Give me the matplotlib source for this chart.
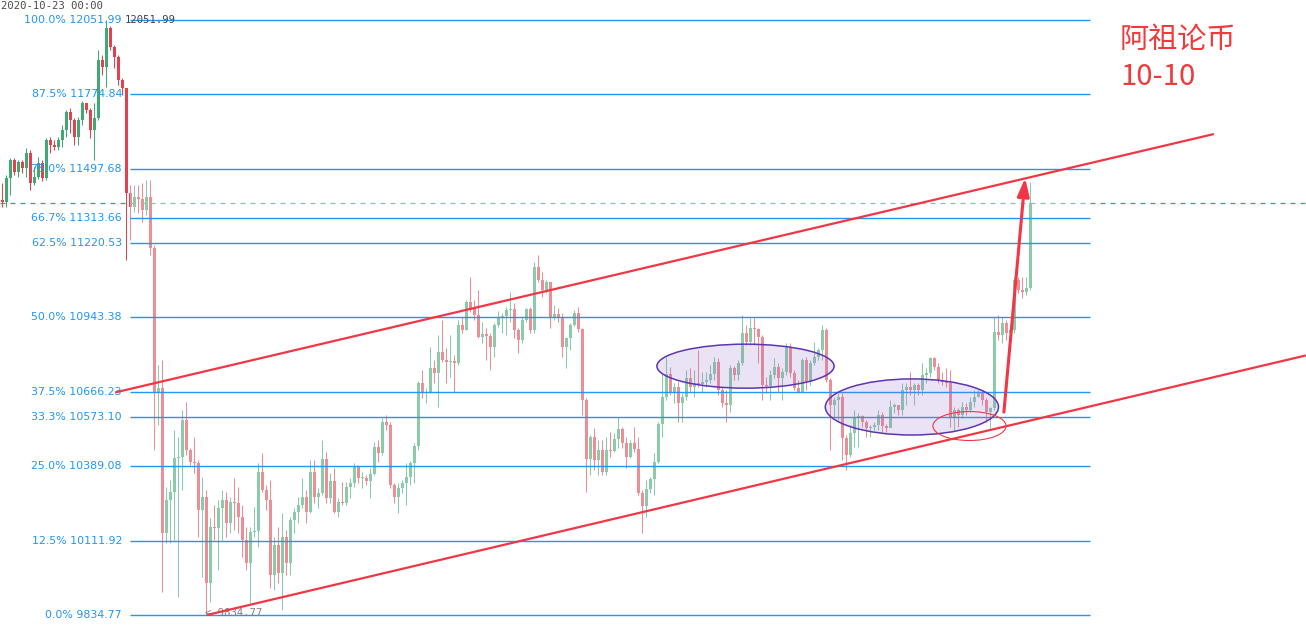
import matplotlib
matplotlib.use("Agg")
import matplotlib.pyplot as plt
from matplotlib.patches import Ellipse, Rectangle
import numpy as np

# === 数据：K线（开盘价 = 前一根收盘价）
first_open = 11381
closes = [
    11374, 11463, 11530, 11486, 11523, 11500, 11556, 11445, 11467, 11519,
    11463, 11605, 11586, 11579, 11605, 11642, 11709, 11679, 11616, 11679,
    11743, 11717, 11642, 11687, 11903, 11877, 12022, 11951, 11914, 11828,
    11799, 11407, 11355, 11392, 11385, 11344, 11392, 11202, 10666, 10681,
    10140, 10263, 10293, 10420, 10424, 10561, 10450, 10405, 10401, 10226,
    10274, 9954, 10163, 10159, 10233, 10263, 10178, 10256, 10252, 10200,
    10114, 10029, 10144, 10148, 10368, 10301, 10263, 9984, 10096, 9991,
    10125, 10029, 10189, 10219, 10245, 10274, 10219, 10368, 10274, 10289,
    10416, 10271, 10334, 10219, 10256, 10252, 10312, 10327, 10386, 10345,
    10347, 10334, 10360, 10461, 10438, 10554, 10543, 10319, 10274, 10308,
    10327, 10349, 10401, 10465, 10699, 10662, 10666, 10755, 10737, 10815,
    10785, 10778, 10781, 10774, 10915, 10897, 11001, 10979, 10953, 10871,
    10882, 10874, 10833, 10915, 10942, 10949, 10971, 10975, 10897, 10860,
    10934, 10975, 10897, 11132, 11083, 11046, 11076, 10945, 10956, 10942,
    10833, 10867, 10915, 10960, 10900, 10636, 10416, 10498, 10412, 10450,
    10368, 10450, 10446, 10491, 10528, 10476, 10424, 10476, 10453, 10289,
    10241, 10304, 10342, 10405, 10547, 10647, 10733, 10666, 10684, 10625,
    10647, 10718, 10684, 10699, 10696, 10703, 10710, 10733, 10778, 10673,
    10625, 10617, 10755, 10729, 10774, 10886, 10852, 10904, 10900, 10871,
    10692, 10688, 10729, 10759, 10718, 10740, 10833, 10737, 10681, 10666,
    10785, 10703, 10774, 10796, 10822, 10897, 10710, 10617, 10636, 10647,
    10494, 10431, 10513, 10573, 10576, 10554, 10532, 10535, 10543, 10580,
    10539, 10532, 10610, 10617, 10599, 10673, 10684, 10673, 10692, 10673,
    10729, 10737, 10792, 10759, 10710, 10703, 10699, 10573, 10599, 10580,
    10610, 10599, 10628, 10647, 10662, 10636, 10591, 10606, 10889, 10878,
    10923, 10886, 10897, 11083, 11046, 11038, 11053, 11370,
]
highs = [
    11445, 11474, 11538, 11538, 11530, 11530, 11575, 11568, 11504, 11541,
    11530, 11612, 11616, 11605, 11616, 11661, 11717, 11724, 11687, 11690,
    11750, 11743, 11724, 11743, 11940, 11922, 12052, 12030, 11959, 11922,
    11836, 11754, 11437, 11437, 11437, 11445, 11456, 11456, 11214, 10766,
    10785, 10312, 10338, 10524, 10498, 10599, 10628, 10457, 10498, 10412,
    10349, 10301, 10196, 10245, 10263, 10301, 10293, 10274, 10345, 10312,
    10245, 10163, 10163, 10237, 10401, 10438, 10319, 10338, 10125, 10163,
    10215, 10151, 10200, 10233, 10274, 10345, 10301, 10412, 10412, 10308,
    10487, 10442, 10364, 10383, 10271, 10330, 10330, 10345, 10401, 10394,
    10368, 10356, 10383, 10479, 10487, 10569, 10580, 10554, 10327, 10327,
    10338, 10401, 10409, 10476, 10707, 10748, 10681, 10833, 10785, 10878,
    10934, 10830, 10878, 10804, 10934, 10945, 11009, 11094, 11009, 11046,
    10927, 10904, 10886, 10923, 10968, 10960, 10982, 11038, 10997, 10904,
    10945, 10979, 10982, 11150, 11176, 11113, 11083, 11076, 10990, 10979,
    10960, 10871, 10923, 10971, 10982, 10904, 10643, 10506, 10532, 10487,
    10487, 10498, 10517, 10513, 10573, 10535, 10498, 10487, 10535, 10498,
    10301, 10338, 10349, 10438, 10554, 10737, 10796, 10759, 10699, 10703,
    10662, 10748, 10755, 10748, 10822, 10740, 10740, 10766, 10796, 10792,
    10684, 10673, 10766, 10763, 10785, 10953, 10915, 10942, 10942, 10904,
    10878, 10722, 10748, 10792, 10774, 10755, 10848, 10848, 10748, 10710,
    10792, 10796, 10785, 10852, 10830, 10915, 10904, 10718, 10647, 10662,
    10662, 10506, 10543, 10599, 10588, 10580, 10561, 10543, 10554, 10599,
    10591, 10547, 10636, 10625, 10617, 10699, 10699, 10740, 10699, 10699,
    10774, 10755, 10796, 10796, 10774, 10740, 10755, 10748, 10610, 10606,
    10628, 10625, 10647, 10673, 10673, 10673, 10643, 10610, 10945, 10953,
    10945, 10934, 10912, 11094, 11094, 11094, 11094, 11448,
]
lows = [
    11355, 11355, 11400, 11474, 11467, 11482, 11467, 11418, 11437, 11459,
    11452, 11456, 11556, 11568, 11568, 11579, 11616, 11631, 11586, 11586,
    11661, 11705, 11612, 11530, 11679, 11847, 11802, 11940, 11873, 11810,
    11772, 11158, 11232, 11337, 11333, 11299, 11325, 11176, 10450, 10543,
    9920, 10103, 10103, 10114, 9902, 10301, 10431, 10394, 10364, 10125,
    9976, 9835, 9883, 10114, 10002, 10114, 10125, 10140, 10151, 10140,
    10051, 10002, 9879, 10125, 10088, 10293, 10226, 9935, 9928, 9954,
    9853, 9984, 9984, 10140, 10178, 10233, 10178, 10215, 10252, 10233,
    10282, 10252, 10252, 10215, 10200, 10245, 10245, 10271, 10312, 10327,
    10308, 10319, 10271, 10356, 10405, 10431, 10524, 10308, 10252, 10215,
    10289, 10245, 10319, 10327, 10450, 10643, 10625, 10662, 10699, 10610,
    10778, 10699, 10722, 10666, 10766, 10886, 10897, 10964, 10934, 10867,
    10848, 10785, 10748, 10796, 10908, 10886, 10878, 10927, 10867, 10811,
    10848, 10927, 10886, 10886, 11076, 11020, 11035, 10904, 10934, 10927,
    10796, 10755, 10822, 10912, 10889, 10580, 10293, 10356, 10375, 10356,
    10356, 10356, 10424, 10442, 10457, 10457, 10383, 10420, 10442, 10282,
    10140, 10200, 10289, 10282, 10401, 10498, 10636, 10655, 10625, 10554,
    10554, 10636, 10666, 10647, 10684, 10666, 10684, 10699, 10710, 10655,
    10610, 10554, 10591, 10710, 10710, 10766, 10841, 10841, 10841, 10774,
    10636, 10662, 10636, 10718, 10666, 10636, 10729, 10722, 10673, 10662,
    10666, 10673, 10692, 10766, 10785, 10785, 10703, 10450, 10573, 10561,
    10412, 10375, 10424, 10461, 10461, 10535, 10498, 10498, 10524, 10524,
    10517, 10517, 10535, 10588, 10580, 10580, 10617, 10655, 10617, 10655,
    10655, 10699, 10722, 10748, 10699, 10692, 10684, 10535, 10524, 10535,
    10569, 10580, 10591, 10610, 10647, 10617, 10554, 10532, 10599, 10860,
    10848, 10860, 10874, 10886, 11035, 11016, 11027, 11046,
]

fib_pcts = ["100.0%", "87.5%", "75.0%", "66.7%", "62.5%", "50.0%",
            "37.5%", "33.3%", "25.0%", "12.5%", "0.0%"]
fib_prices = [12051.99, 11774.84, 11497.68, 11313.66, 11220.53, 10943.38,
              10666.23, 10573.10, 10389.08, 10111.92, 9834.77]

# === 样式
RED = "#e2424f"
GREEN = "#3fa874"
FIB_BLUE = "#2196f3"
LINE_RED = "#f23645"
W, H = 1306, 629

fig = plt.figure(figsize=(W / 100, H / 100), dpi=100)
ax = fig.add_axes([0, 0, 1, 1])
ax.set_xlim(-0.575, 325.925)
ax.set_ylim(9782.6, 12126.5)
ax.axis("off")

# 1️⃣ K线
c = np.array(closes, dtype=float)
o = np.r_[first_open, c[:-1]]
x = np.arange(len(c))
cols = np.where(c >= o, GREEN, RED)
ax.vlines(x, lows, highs, colors=cols, lw=0.75, zorder=2)
ax.bar(x, np.maximum(np.abs(c - o), 3.7), bottom=np.minimum(o, c),
       width=0.75, color=cols, lw=0, zorder=3)

# 当前价虚线
ax.axhline(c[-1], color="#3d9f6e", lw=0.9, ls=(0, (4, 4)), zorder=3)

# 2️⃣ 斐波那契区域（淡化背景）
fib_x0, fib_x1 = 31.9, 271.9
ax.add_patch(Rectangle((fib_x0, fib_prices[-1]), fib_x1 - fib_x0,
                       fib_prices[0] - fib_prices[-1], facecolor="white",
                       alpha=0.4, lw=0, zorder=4))
ax.hlines(fib_prices, fib_x0, fib_x1, colors=FIB_BLUE, lw=1.0, zorder=5)
for pct, p in zip(fib_pcts, fib_prices):
    ax.text(29.9, p, f"{pct} {p:.2f}", color=FIB_BLUE, fontsize=7.9,
            ha="right", va="center", zorder=6)

ax.text(30.6, fib_prices[0], f"{fib_prices[0]:.2f}", color="#444444",
        fontsize=7.6, family="DejaVu Sans Mono", ha="left", va="center", zorder=6)
ax.text(50.6, fib_prices[-1] + 6, f"< {fib_prices[-1]:.2f}", color="#808080",
        fontsize=7.6, family="DejaVu Sans Mono", ha="left", va="center", zorder=6)

# 3️⃣ 紫色椭圆（震荡区间）
for cx, cy, w, h in [(185.8, 10762, 44.3, 164), (227.4, 10610, 43.3, 209)]:
    ax.add_patch(Ellipse((cx, cy), w, h, facecolor="#9575cd", alpha=0.2,
                         lw=0, zorder=6))
    ax.add_patch(Ellipse((cx, cy), w, h, facecolor="none",
                         edgecolor="#5e35b1", lw=1.1, zorder=7))
ax.add_patch(Ellipse((241.8, 10539), 18.3, 108, facecolor="none",
                     edgecolor=LINE_RED, lw=0.8, zorder=7))

# 4️⃣ 通道线 + 箭头
ax.plot([28.2, 302.9], [10664, 11627], color=LINE_RED, lw=1.6, zorder=8,
        solid_capstyle="butt")
ax.plot([51.2, 325.9], [9835, 10802], color=LINE_RED, lw=1.6, zorder=8,
        solid_capstyle="butt")
ax.annotate("", xy=(255.7, 11463), xytext=(250.4, 10591), zorder=9,
            arrowprops=dict(arrowstyle="-|>,head_length=0.6,head_width=0.2",
                            mutation_scale=18, color=LINE_RED, lw=2.2,
                            shrinkA=0, shrinkB=0))

# 5️⃣ 文本
ax.text(1 / W, 1 - 1 / H, "2020-10-23 00:00", transform=ax.transAxes,
        color="#4a4a4a", fontsize=7.6, family="DejaVu Sans Mono",
        ha="left", va="top")
cjk = ["Noto Sans CJK SC", "DejaVu Sans"]
ax.text(1120 / W, 1 - 40 / H, "阿祖论币", transform=ax.transAxes,
        color="#ef3b3b", fontsize=21, family=cjk, ha="left", va="center")
ax.text(1120 / W, 1 - 77 / H, "10-10", transform=ax.transAxes,
        color="#ef3b3b", fontsize=21, family=cjk, ha="left", va="center")

plt.savefig("out.png", dpi=100)
